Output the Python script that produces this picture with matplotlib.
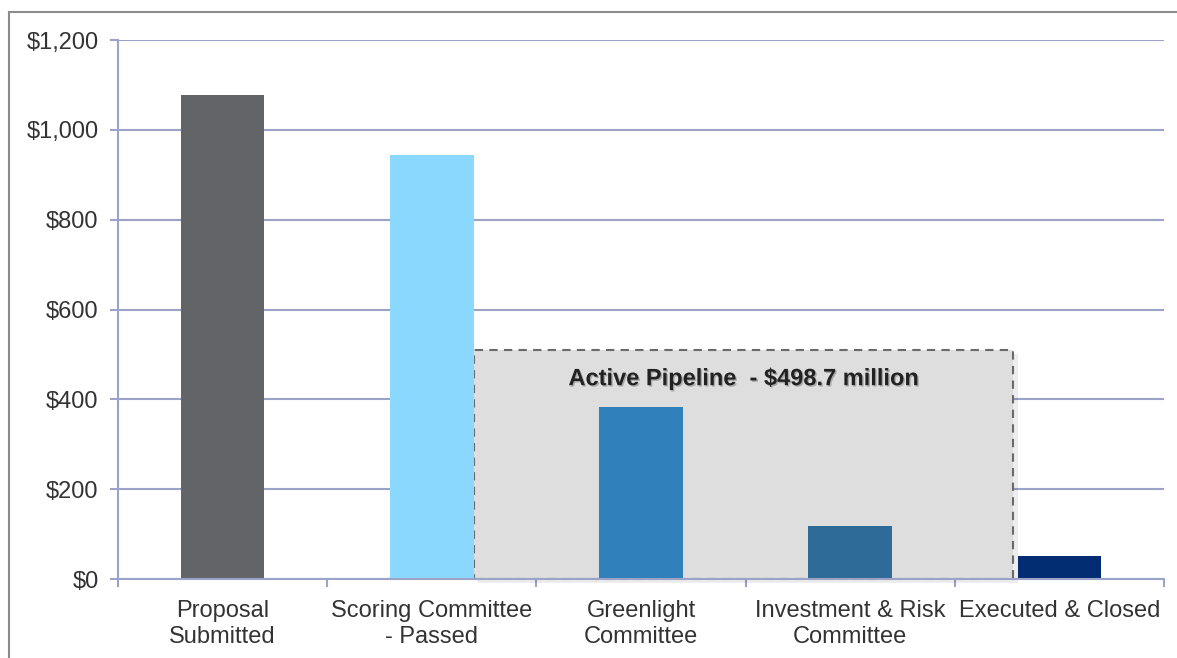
import matplotlib
matplotlib.use("Agg")
import matplotlib.pyplot as plt
from matplotlib.patches import Rectangle
from matplotlib.ticker import FuncFormatter, FixedLocator
from matplotlib.lines import Line2D
import matplotlib.patheffects as pe

plt.rcParams['font.family'] = ['Liberation Sans', 'DejaVu Sans']

stages = ['Proposal\nSubmitted', 'Scoring Committee\n- Passed', 'Greenlight\nCommittee',
          'Investment & Risk\nCommittee', 'Executed & Closed']
values = [1078, 944, 384, 117, 51]
colors = ['#636467', '#8ad8fd', '#2f80bb', '#2e6b98', '#022d73']
pipeline_label = 'Active Pipeline  - $498.7 million'
pipeline_top = 510

grid_col = '#9ca2c8'

fig = plt.figure(figsize=(11.77, 6.58), dpi=100)
ax = fig.add_axes([118 / 1177, 1 - 579 / 658, (1164 - 118) / 1177, (579 - 40) / 658])

x = list(range(len(stages)))
ax.set_xlim(-0.5, len(stages) - 0.5)
ax.set_ylim(0, 1200)

# grid under everything
ax.set_axisbelow(True)
ax.yaxis.grid(True, color=grid_col, linewidth=1.5)
ax.xaxis.grid(False)

# dashed box for active pipeline (shadow + box)
x0, x1 = 1.2, 3.78
shadow = Rectangle((x0 + 0.02, -10), x1 - x0, pipeline_top, facecolor='#000000', alpha=0.07,
                   edgecolor='none', zorder=1.5, clip_on=False)
ax.add_patch(shadow)
box = Rectangle((x0, 0), x1 - x0, pipeline_top, facecolor='#dedede', edgecolor='#6a6a6a',
                linestyle=(0, (4, 3)), linewidth=1.5, zorder=2, clip_on=False)
ax.add_patch(box)
ax.text((x0 + x1) / 2, 446, pipeline_label, ha='center', va='center', fontsize=17,
        fontweight='bold', color='#222222', zorder=4,
        path_effects=[pe.withSimplePatchShadow(offset=(1, -1), alpha=0.25)])

ax.bar(x, values, width=0.4, color=colors, zorder=3)

ax.yaxis.set_major_formatter(FuncFormatter(lambda v, _: f'${v:,.0f}'))
ax.set_yticks(range(0, 1201, 200))
ax.tick_params(axis='y', length=6, width=1.5, color=grid_col, labelsize=17,
               labelcolor='#333333', pad=8)

ax.xaxis.set_major_locator(FixedLocator([i - 0.5 for i in range(len(stages) + 1)]))
ax.xaxis.set_minor_locator(FixedLocator(x))
ax.xaxis.set_major_formatter(FuncFormatter(lambda v, _: ''))
ax.set_xticklabels(stages, minor=True, linespacing=1.22)
ax.tick_params(axis='x', which='major', length=6, width=1.5, color=grid_col)
ax.tick_params(axis='x', which='minor', length=0, labelsize=17, labelcolor='#333333', pad=15)

for s in ['top', 'right']:
    ax.spines[s].set_visible(False)
for s in ['left', 'bottom']:
    ax.spines[s].set_color(grid_col)
    ax.spines[s].set_linewidth(1.5)
ax.spines['bottom'].set_zorder(5)

# outer frame (cut off at right and bottom)
fig.add_artist(Line2D([9 / 1177, 1.0], [1 - 12 / 658, 1 - 12 / 658], color='#8c8c8c', linewidth=1.5))
fig.add_artist(Line2D([9 / 1177, 9 / 1177], [0.0, 1 - 12 / 658], color='#8c8c8c', linewidth=1.5))

fig.savefig('out.png', dpi=100)
